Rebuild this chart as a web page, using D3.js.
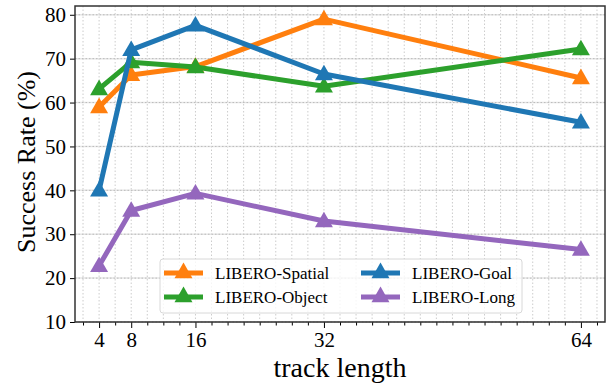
<!DOCTYPE html>
<html><head><meta charset="utf-8">
<script src="https://cdn.jsdelivr.net/npm/d3@7"></script>
<style>body{margin:0;background:#fff}svg{display:block}</style>
</head><body>
<script>
const trackLengths = [4, 8, 16, 32, 64];
const spatial = [59.0, 66.3, 68.2, 79.0, 65.6];
const object = [63.1, 69.2, 68.1, 63.7, 72.2];
const goal = [40.0, 72.0, 77.6, 66.5, 55.5];
const longS = [22.8, 35.4, 39.3, 33.0, 26.5];
const seriesNames = ["LIBERO-Spatial", "LIBERO-Object", "LIBERO-Goal", "LIBERO-Long"];
const seriesColors = ["#ff7f0e", "#2ca02c", "#1f77b4", "#9467bd"];
const yTicks = [10, 20, 30, 40, 50, 60, 70, 80];
const series = [spatial, object, goal, longS];

const W = 613, H = 384;
const L = 75, R = 605, T = 6, B = 322;
const svg = d3.select("body").append("svg").attr("width", W).attr("height", H);
const x = d3.scaleLinear().domain([1, 67]).range([L, R]);
const y = d3.scaleLinear().domain([10, 82]).range([B, T]);
const font = "'Liberation Serif', 'Times New Roman', serif";

// grid
const minor = d3.range(2, 67, 2);
svg.append("g").selectAll("line").data(minor).join("line")
  .attr("x1", d => x(d)).attr("x2", d => x(d)).attr("y1", T).attr("y2", B)
  .attr("stroke", "#cccccc").attr("stroke-width", 1).attr("stroke-dasharray", "1.5,2");
svg.append("g").selectAll("line").data(yTicks).join("line")
  .attr("x1", L).attr("x2", R).attr("y1", d => y(d)).attr("y2", d => y(d))
  .attr("stroke", "#e6e6e6").attr("stroke-width", 1.5);
svg.append("g").selectAll("line").data(yTicks).join("line")
  .attr("x1", L).attr("x2", R).attr("y1", d => y(d)).attr("y2", d => y(d))
  .attr("stroke", "#bbbbbb").attr("stroke-width", 1).attr("stroke-dasharray", "1.5,2");

// series
const line = d3.line().x((d, i) => x(trackLengths[i])).y(d => y(d));
const tri = d3.symbol().type(d3.symbolTriangle).size(140);
series.forEach((s, k) => {
  svg.append("path").datum(s).attr("d", line).attr("fill", "none")
    .attr("stroke", seriesColors[k]).attr("stroke-width", 5).attr("stroke-linejoin", "round");
  svg.append("g").selectAll("path").data(s).join("path")
    .attr("transform", (d, i) => `translate(${x(trackLengths[i])},${y(d) + 1})`)
    .attr("d", tri).attr("fill", seriesColors[k]);
});

// axes
const xAxis = svg.append("g").attr("transform", `translate(0,${B})`)
  .call(d3.axisBottom(x).tickValues(trackLengths).tickSize(6).tickPadding(4).tickFormat(d3.format("d")));
const xMinor = svg.append("g").attr("transform", `translate(0,${B})`)
  .call(d3.axisBottom(x).tickValues(minor.filter(d => !trackLengths.includes(d))).tickSize(3.5).tickFormat(""));
xMinor.select(".domain").remove();
const yAxis = svg.append("g").attr("transform", `translate(${L},0)`)
  .call(d3.axisLeft(y).tickValues(yTicks).tickSize(5).tickPadding(4));
[xAxis, yAxis, xMinor].forEach(g => {
  g.selectAll("text").attr("font-family", font).attr("font-size", 21).attr("fill", "#000");
  g.selectAll("line").attr("stroke", "#000").attr("stroke-width", 1);
});
svg.selectAll(".domain").remove();
svg.append("rect").attr("x", L).attr("y", T).attr("width", R - L).attr("height", B - T)
  .attr("fill", "none").attr("stroke", "#333").attr("stroke-width", 1.5);

svg.append("text").attr("x", (L + R) / 2).attr("y", 377).attr("text-anchor", "middle")
  .attr("font-family", font).attr("font-size", 28).text("track length");
svg.append("text").attr("transform", `translate(35,${(T + B) / 2 - 2}) rotate(-90)`)
  .attr("text-anchor", "middle").attr("font-family", font).attr("font-size", 26).text("Success Rate (%)");

// legend
const lg = svg.append("g");
lg.append("rect").attr("x", 160).attr("y", 259).attr("width", 362).attr("height", 54).attr("rx", 3)
  .attr("fill", "#fff").attr("fill-opacity", 0.8).attr("stroke", "#d8d8d8");
seriesNames.forEach((n, k) => {
  const col = k < 2 ? 0 : 1, row = k % 2;
  const lx = col === 0 ? 164 : 361, ly = 273 + row * 24;
  lg.append("line").attr("x1", lx).attr("x2", lx + 39).attr("y1", ly).attr("y2", ly)
    .attr("stroke", seriesColors[k]).attr("stroke-width", 5);
  lg.append("path").attr("transform", `translate(${lx + 19.5},${ly})`).attr("d", tri).attr("fill", seriesColors[k]);
  lg.append("text").attr("x", lx + 51).attr("y", ly + 5.5).attr("font-family", font).attr("font-size", 17).text(n);
});
</script>
</body></html>
